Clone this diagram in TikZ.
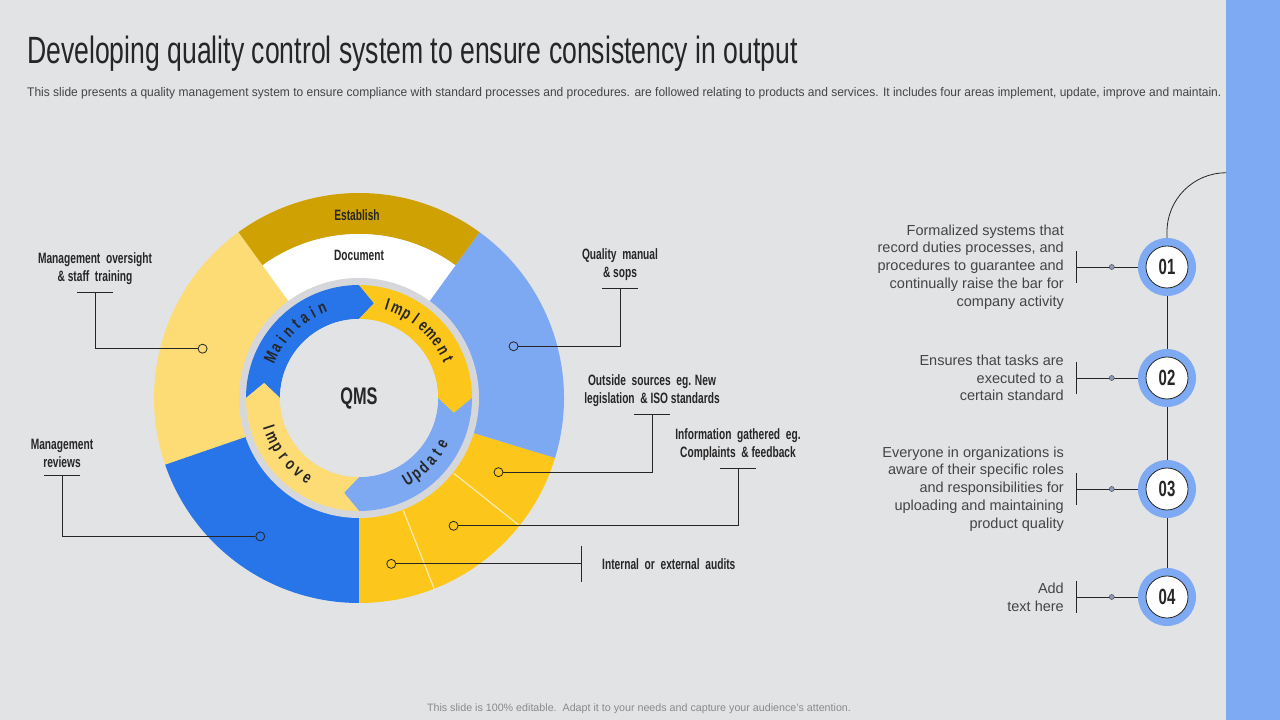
\documentclass[tikz,border=0pt]{standalone}
\usepackage{fontspec}
\setmainfont{Liberation Sans}
\newfontfamily\headfont[FakeStretch=0.70]{Liberation Sans}
\newfontfamily\condfont[FakeStretch=0.68]{Liberation Sans}
\newfontfamily\arcfamily[FakeStretch=0.75]{Liberation Sans}
\newfontfamily\narrowfont[FakeStretch=0.96]{Liberation Sans}
\usepackage{xcolor}
\usetikzlibrary{positioning,calc}

\definecolor{bgGray}{HTML}{E2E3E5}
\definecolor{ringGray}{HTML}{D6D7DA}
\definecolor{bandBlue}{HTML}{7DAAF2}
\definecolor{goldDark}{HTML}{CFA102}
\definecolor{yellowLight}{HTML}{FDDC75}
\definecolor{yellowPale}{HTML}{FDEBB0}
\definecolor{blueDark}{HTML}{2775E8}
\definecolor{blueLight}{HTML}{7CA9F2}
\definecolor{yellowMid}{HTML}{FCC61A}
\definecolor{inkDark}{HTML}{262626}
\definecolor{textGray}{HTML}{444444}
\definecolor{footGray}{HTML}{8A8A8A}
\definecolor{dotGray}{HTML}{8C9BB8}

% annular sector: start, end, inner r, outer r, colour
\newcommand{\donutpart}[5]{%
  \fill[#5] (#1:#3) arc[start angle=#1, end angle=#2, radius=#3]
    -- (#2:#4) arc[start angle=#2, end angle=#1, radius=#4] -- cycle;}
% quarter arrow going clockwise from #1
\newcommand{\ringarrow}[2]{%
  \fill[#2] (#1:113) arc[start angle=#1, end angle=#1-90, radius=113]
    -- (#1-99:96) -- (#1-90:79) arc[start angle=#1-90, end angle=#1, radius=79]
    -- (#1-9:96) -- cycle;}

\begin{document}
\begin{tikzpicture}[x=1pt, y=1pt,
  leader/.style={draw=inkDark, line width=0.8pt},
  dot/.style={circle, draw=inkDark, line width=0.8pt, minimum size=9pt, inner sep=0pt},
  lbl/.style={font=\condfont\bfseries\fontsize{15}{18}\selectfont, text=inkDark, align=center, inner sep=0pt},
  desc/.style={font=\fontsize{14.5}{17.8}\selectfont, text=textGray, align=right, inner sep=0pt},
  ring/.style={circle, fill=bandBlue, minimum size=58pt, inner sep=0pt},
  numdisc/.style={circle, fill=white, draw=inkDark, line width=0.8pt, minimum size=42pt, inner sep=0pt, font=\condfont\bfseries\fontsize{22}{22}\selectfont, text=inkDark},
  smalldot/.style={circle, fill=dotGray, draw=inkDark!80, line width=0.5pt, minimum size=5pt, inner sep=0pt},
  sepline/.style={draw=yellowPale, line width=1.2pt},
  arcletter/.style={inner sep=0pt, text height=12.5pt, text depth=3.5pt, font=\arcfamily\bfseries\fontsize{17}{17}\selectfont, text=inkDark}]

\useasboundingbox (0,0) rectangle (1280,720);
\fill[bgGray] (0,0) rectangle (1280,720);
\fill[bandBlue] (1226,0) rectangle (1280,720);

% heading
\node[anchor=base west, inner sep=0pt, font=\headfont\fontsize{38}{40}\selectfont, text=inkDark] (title) at (27,656) {Developing quality control system to ensure consistency in output};
\node[anchor=base west, inner sep=0pt, font=\narrowfont\fontsize{12.5}{14}\selectfont, text=textGray] (sub) at (27,623) {This slide presents a quality management system to ensure compliance with standard processes and procedures. are followed relating to products and services. It includes four areas implement, update, improve and maintain.};

% donut
\begin{scope}[shift={(359,322)}]
\donutpart{126}{199}{119}{205}{yellowLight}
\donutpart{199}{270}{119}{205}{blueDark}
\donutpart{270}{343}{119}{205}{yellowMid}
\donutpart{-17}{54}{119}{205}{blueLight}
\donutpart{54}{126}{164}{205}{goldDark}
\donutpart{54}{126}{119}{164}{white}
\draw[sepline] (291.5:121) -- (291.5:205);
\draw[sepline] (321.5:121) -- (321.5:205);
\fill[ringGray] (0,0) circle[radius=120];
\ringarrow{180}{blueDark}
\ringarrow{90}{yellowMid}
\ringarrow{0}{blueLight}
\ringarrow{-90}{yellowLight}
\fill[bgGray] (0,0) circle[radius=79];
% letters round the ring
\foreach \ch [count=\k] in {M,a,i,n,t,a,i,n}
  \node[arcletter, rotate={155-(\k-1)*6.1-90}] (ma\k) at ({155-(\k-1)*6.1}:96) {\ch};
\foreach \ch [count=\k] in {I,m,p,l,e,m,e,n,t}
  \node[arcletter, rotate={73-(\k-1)*6.2-90}] (im\k) at ({73-(\k-1)*6.2}:96) {\ch};
\foreach \ch [count=\k] in {U,p,d,a,t,e}
  \node[arcletter, rotate={301+(\k-1)*6+90}] (up\k) at ({301+(\k-1)*6}:96) {\ch};
\foreach \ch [count=\k] in {I,m,p,r,o,v,e}
  \node[arcletter, rotate={198+(\k-1)*6.5+90}] (ip\k) at ({198+(\k-1)*6.5}:96) {\ch};
\node[font=\condfont\bfseries\fontsize{24}{24}\selectfont, text=inkDark] (qms) at (0,0) {QMS};
\node[lbl] (est) at (-2,183) {Establish};
\node[lbl] (doc) at (0,143) {Document};
\node[dot, fill=yellowLight] (d1) at (162.5:164) {};
\node[dot, fill=blueDark] (d2) at (234.5:170) {};
\node[dot, fill=blueLight] (d3) at (18.5:163) {};
\node[dot, fill=yellowMid] (d4) at (332:158) {};
\node[dot, fill=yellowMid] (d5) at (306.5:159) {};
\node[dot, fill=yellowMid] (d6) at (281:169) {};
\end{scope}

% callouts
\coordinate (b1) at (95,428);
\coordinate (b2) at (62,245);
\coordinate (b3) at (620,432);
\coordinate (b4) at (652,306);
\coordinate (b5) at (738,252);
\coordinate (b6) at (581,156);
\foreach \i in {1,...,5}{
  \draw[leader] (d\i) -| (b\i);
  \draw[leader] ([xshift=-18pt]b\i) -- ([xshift=18pt]b\i);
}
\draw[leader] (d6) -- (d6 -| b6);
\draw[leader] ([yshift=18pt]b6) -- ([yshift=-18pt]b6);
\node[lbl, above=7pt of b1] (t1) {Management\ \ oversight\\\& staff\ \ training};
\node[lbl, above=7pt of b2] (t2) {Management\\reviews};
\node[lbl, above=7pt of b3] (t3) {Quality\ \ manual\\\& sops};
\node[lbl, above=7pt of b4] (t4) {Outside\ \ sources\ \ eg. New\\legislation\ \ \& ISO standards};
\node[lbl, above=7pt of b5] (t5) {Information\ \ gathered\ \ eg.\\Complaints\ \ \& feedback};
\node[lbl, right=21pt of b6] (t6) {Internal\ \ or\ \ external\ \ audits};

% numbered steps
\node[ring] (n1) at (1167,453) {};
\node[ring] (n2) at (1167,342) {};
\node[ring] (n3) at (1167,231) {};
\node[ring] (n4) at (1167,123) {};
\draw[leader] (n1) -- (n2);
\draw[leader] (n2) -- (n3);
\draw[leader] (n3) -- (n4);
\draw[leader] (n1.north) -- ++(0,6) arc[start angle=180, end angle=90, radius=59];
\foreach \i/\t in {1/01,2/02,3/03,4/04}{
  \node[numdisc] (m\i) at (n\i) {\t};
  \coordinate (r\i) at (1076,0 |- n\i);
  \draw[leader] (n\i) -- (r\i);
  \draw[leader] ([yshift=16pt]r\i) -- ([yshift=-16pt]r\i);
  \node[smalldot, right=33pt of r\i] (s\i) {};
}
\node[desc, left=12pt of r1] (p1) {Formalized systems that\\record duties processes, and\\procedures to guarantee and\\continually raise the bar for\\company activity};
\node[desc, left=12pt of r2] (p2) {Ensures that tasks are\\executed to a\\certain standard};
\node[desc, left=12pt of r3] (p3) {Everyone in organizations is\\aware of their specific roles\\and responsibilities for\\uploading and maintaining\\product quality};
\node[desc, left=12pt of r4] (p4) {Add\\text here};

\node[anchor=base, inner sep=0pt, font=\fontsize{10.7}{12}\selectfont, text=footGray] (foot) at (639,8.5) {This slide is 100\% editable.\ \ Adapt it to your needs and capture your audience's attention.};
\end{tikzpicture}
\end{document}
